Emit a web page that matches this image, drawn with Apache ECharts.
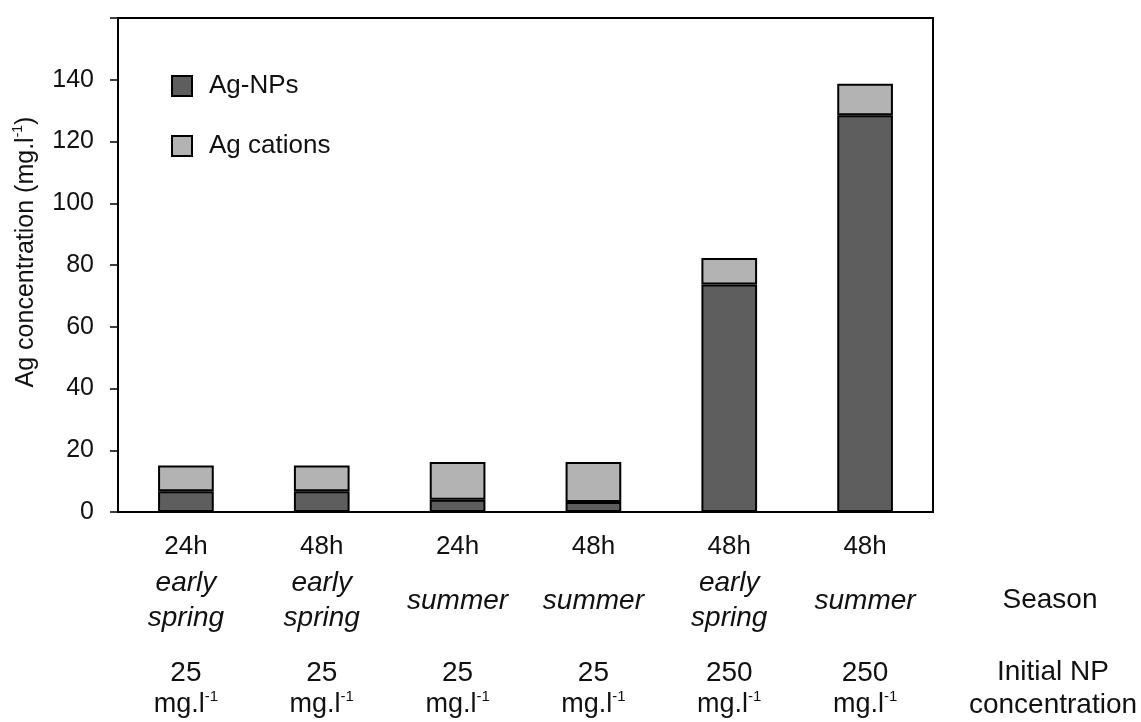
<!DOCTYPE html>
<html>
<head>
<meta charset="utf-8">
<script src="https://cdn.jsdelivr.net/npm/echarts@6/dist/echarts.min.js"></script>
<style>html,body{margin:0;padding:0;background:#fff;}#c{width:1141px;height:722px;}</style>
</head>
<body>
<div id="c"></div>
<script>
const timeLabels = ['24h', '48h', '24h', '48h', '48h', '48h'];
const seasonLabels = ['early\nspring', 'early\nspring', 'summer', 'summer', 'early\nspring', 'summer'];
const concLabels = ['25', '25', '25', '25', '250', '250'];
const agNPs = [6.7, 6.7, 4.0, 3.2, 73.7, 128.5];
const agCations = [8.4, 8.4, 12.2, 13.0, 8.6, 10.2];
const yTicks = { min: 0, max: 160, interval: 20 };

const FONT = 'Liberation Sans, Arial, sans-serif';
const TXT = '#111';
const idx = timeLabels.map((_, i) => String(i));

const chart = echarts.init(document.getElementById('c'), null, { renderer: 'canvas' });

const baseX = {
  type: 'category',
  data: idx,
  gridIndex: 0,
  position: 'bottom',
  axisTick: { show: false },
  splitLine: { show: false }
};

chart.setOption({
  animation: false,
  backgroundColor: '#fff',
  textStyle: { fontFamily: FONT },
  grid: {
    left: 118, top: 18, right: 208, bottom: 210,
    containLabel: false,
    outerBoundsMode: 'none',
    show: true, borderColor: '#000', borderWidth: 2, backgroundColor: 'transparent'
  },
  legend: {
    orient: 'vertical',
    left: 166, top: 68,
    itemWidth: 20, itemHeight: 20, itemGap: 34,
    icon: 'rect',
    textStyle: { fontFamily: FONT, fontSize: 26, color: TXT, padding: [0, 0, 0, 12] },
    data: ['Ag-NPs', 'Ag cations']
  },
  xAxis: [
    Object.assign({}, baseX, {
      axisLine: { show: true, lineStyle: { color: '#000', width: 2 } },
      axisLabel: {
        margin: 35, verticalAlign: 'middle', fontSize: 26, color: TXT, fontFamily: FONT,
        formatter: (v) => timeLabels[+v]
      }
    }),
    Object.assign({}, baseX, {
      offset: 88,
      axisLine: { show: false },
      axisLabel: {
        margin: 1, verticalAlign: 'middle', fontSize: 28, fontStyle: 'italic', lineHeight: 35,
        color: TXT, fontFamily: FONT,
        formatter: (v) => seasonLabels[+v]
      },
      name: 'Season',
      nameLocation: 'end',
      nameGap: 117,
      nameTextStyle: { fontSize: 28, color: TXT, fontFamily: FONT, align: 'center', verticalAlign: 'middle', padding: [2, 0, 0, 0] }
    }),
    Object.assign({}, baseX, {
      offset: 177,
      axisLine: { show: false },
      axisLabel: {
        margin: 0, verticalAlign: 'middle', color: TXT, fontFamily: FONT, lineHeight: 31,
        formatter: (v) => '{n|' + concLabels[+v] + '}\n{u|mg.l}{s|-1}',
        rich: {
          n: { fontSize: 28, lineHeight: 31, color: TXT, fontFamily: FONT },
          u: { fontSize: 27, lineHeight: 31, color: TXT, fontFamily: FONT },
          s: { fontSize: 15, lineHeight: 15, verticalAlign: 'top', color: TXT, fontFamily: FONT }
        }
      },
      name: 'Initial NP\nconcentration',
      nameLocation: 'end',
      nameGap: 120,
      nameTextStyle: { fontSize: 28, lineHeight: 33, color: TXT, fontFamily: FONT, align: 'center', verticalAlign: 'middle' }
    })
  ],
  yAxis: {
    type: 'value',
    min: yTicks.min, max: yTicks.max, interval: yTicks.interval,
    axisLine: { show: true, lineStyle: { color: '#000', width: 2 } },
    axisTick: { show: true, inside: false, length: 8, lineStyle: { color: '#000', width: 1.5 } },
    splitLine: { show: false },
    axisLabel: {
      margin: 24, fontSize: 25, color: TXT, fontFamily: FONT,
      formatter: (v) => (v === yTicks.max ? '' : String(v))
    },
    name: '{t|Ag concentration (mg.l}{s|-1}{t|)}',
    nameLocation: 'middle',
    nameGap: 77,
    nameRotate: 90,
    nameTextStyle: {
      padding: [0, 0, 0, 26],
      rich: {
        t: { fontSize: 25, lineHeight: 30, color: TXT, fontFamily: FONT },
        s: { fontSize: 14, lineHeight: 14, verticalAlign: 'top', color: TXT, fontFamily: FONT }
      }
    }
  },
  series: [
    {
      name: 'Ag-NPs', type: 'bar', stack: 'total', xAxisIndex: 0,
      barWidth: '41%',
      data: agNPs,
      itemStyle: { color: '#5e5e5e', borderColor: '#000', borderWidth: 2 }
    },
    {
      name: 'Ag cations', type: 'bar', stack: 'total', xAxisIndex: 0,
      barWidth: '41%',
      data: agCations,
      itemStyle: { color: '#b3b3b3', borderColor: '#000', borderWidth: 2 }
    }
  ]
});
</script>
</body>
</html>
